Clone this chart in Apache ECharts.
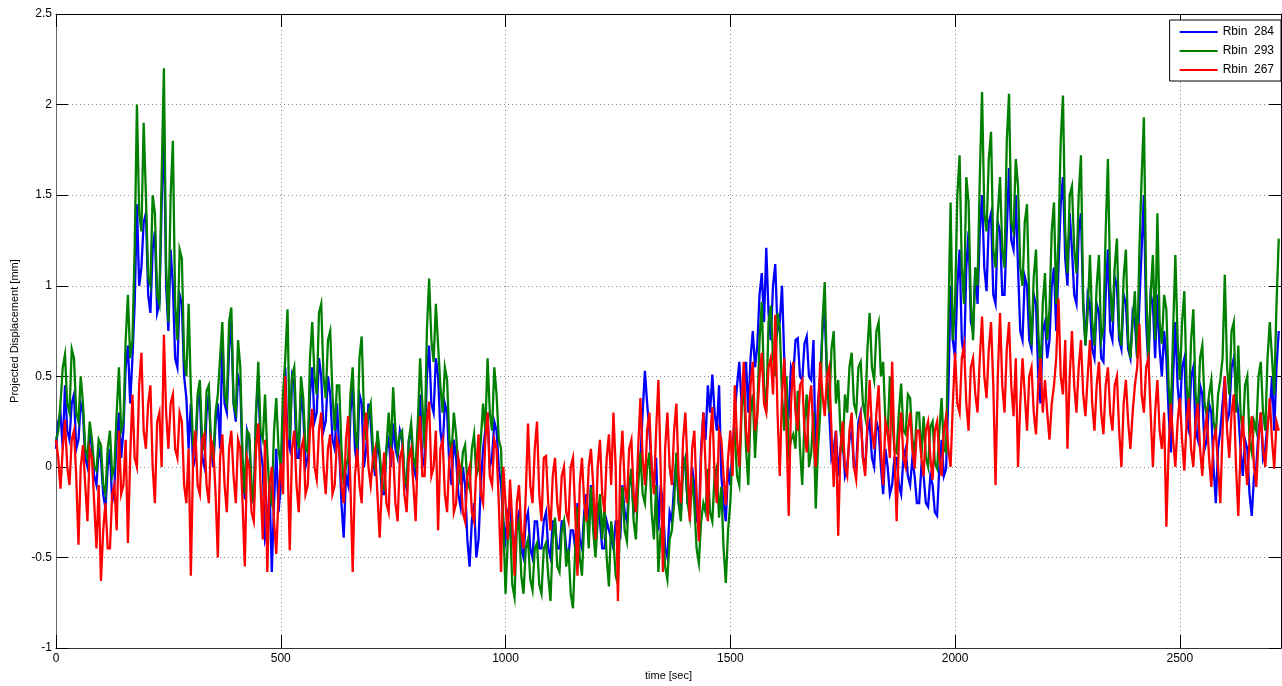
<!DOCTYPE html>
<html>
<head>
<meta charset="utf-8">
<title>Projected Displacement</title>
<script src="https://cdn.jsdelivr.net/npm/echarts@6/dist/echarts.min.js"></script>
<style>
  html, body { margin: 0; padding: 0; background: #fff; }
  #chart { width: 1282px; height: 686px; }
</style>
</head>
<body>
<div id="chart"></div>
<script>
// Sampling interval of the displacement records, in seconds.
// Main samples sit at 0, 10, 20 ... s; the "Half" arrays hold the samples at 5, 15, 25 ... s.
const SAMPLE_STEP = 10;

// Series names shown in the legend.
const seriesNames = ['Rbin  284', 'Rbin  293', 'Rbin  267'];
const seriesColors = ['#0000ff', '#008000', '#ff0000'];

// Axis tick values.
const xTicks = [0, 500, 1000, 1500, 2000, 2500];
const yTicks = [-1, -0.5, 0, 0.5, 1, 1.5, 2, 2.5];

// Projected displacement [mm], one row per 100 s.
const rbin284 = [
  0.1, 0.3, 0.45, 0.15, 0.4, 0.15, 0.3, 0.0, 0.1, -0.1,
  0.05, -0.23, 0.1, -0.1, 0.3, 0.2, 0.67, 0.6, 1.45, 1.1,
  1.4, 0.85, 1.3, 0.9, 1.9, 0.75, 1.0, 0.55, 0.9, 0.38,
  0.35, 0.05, 0.4, 0.0, 0.4, 0.0, 0.35, 0.7, 0.3, 0.8,
  0.25, 0.45, -0.18, 0.15, -0.2, 0.5, 0.0, -0.35, -0.58, 0.1,
  -0.1, 0.55, 0.1, 0.45, 0.05, 0.3, 0.05, 0.55, 0.3, 0.5,
  0.25, 0.4, 0.1, 0.1, -0.39, -0.1, 0.45, 0.0, 0.35, 0.1,
  0.25, -0.05, 0.05, -0.15, 0.15, 0.24, 0.05, 0.15, -0.12, 0.2,
  -0.05, 0.4, 0.05, 0.67, 0.3, 0.5, 0.1, 0.3, -0.1, 0.05,
  -0.22, -0.1, -0.55, -0.2, -0.4, 0.1, 0.3, 0.05, 0.2, -0.1,
  -0.4, -0.2, -0.45, -0.25, -0.5, -0.25, -0.5, -0.3, -0.45, -0.25,
  -0.5, -0.3, -0.45, -0.3, -0.5, -0.35, -0.2, -0.45, -0.15, -0.1,
  -0.4, -0.3, -0.45, -0.35, -0.45, -0.3, -0.1, -0.3, -0.05, -0.2,
  0.05, 0.53, 0.2, -0.1, -0.35, -0.2, -0.5, -0.3, 0.05, -0.25,
  0.0, -0.2, -0.1, -0.3, 0.3, 0.45, 0.51, 0.2, -0.05, -0.3,
  -0.1, 0.3, 0.58, 0.4, 0.3, 0.75, 0.67, 1.07, 1.21, 0.7,
  1.12, 0.8, 0.6, 0.3, 0.5, 0.71, 0.48, 0.72, 0.48, 0.0,
  0.5, 0.85, 0.3, 0.1, -0.05, 0.15, 0.0, 0.2, 0.0, 0.3,
  0.0, 0.25, 0.0, 0.2, -0.15, 0.0, -0.1, 0.05, -0.15, 0.1,
  -0.1, -0.05, -0.2, -0.05, -0.22, -0.1, -0.27, 0.15, -0.01, 1.0,
  0.6, 1.2, 0.6, 1.3, 0.75, 0.9, 1.5, 0.97, 1.4, 0.9,
  1.3, 0.95, 1.65, 1.2, 1.1, 0.7, 1.0, 0.65, 0.9, 0.35,
  0.8, 0.7, 1.1, 1.1, 1.6, 1.0, 1.2, 0.9, 1.4, 0.67,
  0.9, 0.6, 0.85, 0.58, 1.2, 0.7, 1.0, 0.65, 0.9, 0.6,
  0.8, 0.9, 1.5, 0.55, 0.9, 0.95, 0.5, 0.6, 0.08, 0.8,
  0.3, 0.6, 0.2, 0.55, 0.15, 0.4, 0.15, 0.3, -0.2, 0.2,
  0.5, 0.3, 0.6, 0.3, -0.05, 0.1, -0.27, 0.0, 0.3, 0.1,
  0.3, 0.2, 0.75
];
const rbin284Half = [
  0.25, 0.1, 0.2, 0.35, 0.1, 0.35, 0.05, 0.2, -0.05, 0.1,
  -0.15, 0.0, -0.2, 0.15, 0.05, 0.55, 0.35, 0.9, 1.0, 1.35,
  0.95, 1.2, 0.85, 1.45, 1.0, 1.2, 0.6, 0.95, 0.5, 0.1,
  0.0, 0.35, 0.05, 0.3, 0.1, 0.25, 0.1, 0.35, 0.65, 0.35,
  0.5, 0.0, 0.2, -0.15, 0.3, 0.1, -0.4, -0.1, -0.2, -0.25,
  0.3, 0.15, 0.5, 0.05, 0.4, 0.0, 0.4, 0.25, 0.6, 0.2,
  0.5, 0.15, 0.35, -0.2, -0.05, 0.3, 0.1, 0.4, 0.0, 0.35,
  0.05, 0.15, -0.15, 0.1, 0.0, 0.1, 0.2, -0.05, 0.15, 0.0,
  0.2, 0.0, 0.5, 0.35, 0.6, 0.2, 0.35, 0.0, 0.15, -0.15,
  0.0, -0.4, -0.3, -0.5, -0.1, 0.2, 0.0, 0.25, 0.0, -0.3,
  -0.25, -0.4, -0.3, -0.45, -0.3, -0.45, -0.3, -0.45, -0.3, -0.45,
  -0.3, -0.45, -0.3, -0.45, -0.35, -0.45, -0.4, -0.25, -0.35, -0.3,
  -0.2, -0.45, -0.3, -0.4, -0.3, -0.4, -0.25, -0.1, -0.25, 0.0,
  0.3, 0.35, 0.0, 0.05, -0.1, -0.45, -0.25, -0.1, -0.2, 0.05,
  -0.2, 0.0, -0.3, 0.1, 0.15, 0.3, 0.3, 0.45, -0.2, 0.0,
  0.1, 0.45, 0.35, 0.58, 0.6, 0.55, 0.95, 0.8, 0.85, 1.0,
  0.75, 1.0, 0.35, 0.55, 0.7, 0.5, 0.68, 0.5, 0.7, 0.35,
  0.75, 0.5, 0.05, 0.2, 0.1, -0.05, 0.15, 0.0, 0.25, 0.05,
  0.2, 0.05, 0.25, 0.0, 0.1, -0.15, 0.05, -0.1, 0.05, -0.05,
  0.05, -0.2, 0.0, -0.2, -0.05, -0.25, 0.0, -0.05, 0.4, 0.7,
  1.0, 0.7, 1.1, 0.8, 1.1, 1.3, 1.1, 1.35, 0.95, 1.35,
  0.95, 1.3, 1.25, 1.5, 0.75, 1.05, 0.7, 0.95, 0.5, 0.75,
  0.6, 1.0, 0.75, 1.45, 1.15, 1.4, 0.95, 1.3, 0.9, 0.95,
  0.65, 0.9, 0.6, 0.95, 0.75, 1.05, 0.7, 0.95, 0.65, 0.85,
  0.6, 1.2, 0.8, 0.95, 0.6, 0.65, 0.75, 0.3, 0.5, 0.45,
  0.55, 0.25, 0.5, 0.2, 0.45, 0.1, 0.35, 0.0, 0.1, 0.35,
  0.25, 0.55, 0.4, 0.1, 0.15, -0.15, -0.05, 0.2, 0.05, 0.25,
  0.5, 0.55
];

const rbin293 = [
  0.15, 0.35, 0.62, 0.3, 0.6, 0.25, 0.35, 0.05, 0.15, -0.02,
  0.12, -0.15, 0.2, 0.0, 0.55, 0.25, 0.95, 0.7, 2.0, 1.3,
  1.5, 1.0, 1.4, 0.9, 2.2, 0.8, 1.8, 0.7, 1.15, 0.5,
  0.42, 0.1, 0.48, 0.1, 0.45, 0.05, 0.4, 0.8, 0.35, 0.88,
  0.3, 0.55, -0.15, 0.18, -0.2, 0.58, 0.15, 0.08, -0.2, 0.38,
  0.0, 0.6, 0.15, 0.55, 0.1, 0.38, 0.08, 0.8, 0.4, 0.9,
  0.38, 0.75, 0.2, 0.45, -0.1, 0.05, 0.55, 0.1, 0.72, 0.15,
  0.35, -0.02, 0.08, -0.12, 0.3, 0.44, 0.08, 0.2, -0.1, 0.24,
  0.0, 0.6, 0.1, 1.04, 0.58, 0.67, 0.3, 0.48, 0.08, 0.18,
  -0.1, 0.12, -0.12, 0.18, 0.0, 0.35, 0.6, 0.2, 0.4, 0.1,
  -0.7, -0.3, -0.72, -0.3, -0.7, -0.4, -0.68, -0.42, -0.7, -0.42,
  -0.74, -0.28, -0.58, -0.3, -0.45, -0.78, -0.22, -0.6, -0.2, -0.11,
  -0.5, -0.15, -0.21, -0.66, -0.41, -0.65, -0.11, -0.41, -0.01, -0.4,
  0.08, -0.2, 0.08, -0.4, -0.58, -0.31, -0.62, -0.35, 0.08, -0.3,
  0.05, -0.28, -0.21, -0.53, -0.2, -0.01, -0.3, 0.0, -0.11, -0.64,
  -0.2, 0.18, -0.1, 0.48, -0.1, 0.4, 0.3, 0.91, 0.3, 0.89,
  0.5, 0.77, 0.2, 0.08, 0.18, 0.42, -0.1, 0.4, 0.08, -0.23,
  0.3, 1.02, 0.3, 0.75, 0.48, 0.08, 0.3, 0.63, 0.3, 0.58,
  0.28, 0.85, 0.48, 0.8, 0.58, 0.18, 0.28, 0.08, 0.46, 0.18,
  0.38, 0.08, 0.3, 0.28, 0.0, 0.25, -0.01, 0.38, 0.08, 1.46,
  0.9, 1.72, 0.9, 1.46, 0.7, 1.0, 2.07, 1.3, 1.85, 1.1,
  1.6, 1.1, 2.06, 1.3, 1.55, 1.0, 1.45, 0.67, 1.2, 0.5,
  1.07, 0.87, 1.46, 1.26, 2.05, 1.07, 1.55, 1.07, 1.72, 0.67,
  1.17, 0.67, 1.17, 0.77, 1.7, 0.8, 1.26, 0.67, 1.2, 0.6,
  0.97, 1.2, 1.93, 0.58, 1.17, 1.4, 0.68, 0.87, 0.28, 1.17,
  0.48, 0.97, 0.3, 0.87, 0.3, 0.67, 0.28, 0.48, 0.18, 0.48,
  1.06, 0.4, 0.8, 0.67, 0.18, 0.5, 0.08, 0.2, 0.58, 0.2,
  0.8, 0.4, 1.26
];
const rbin293Half = [
  0.2, 0.55, 0.35, 0.65, 0.3, 0.5, 0.1, 0.25, 0.0, 0.15,
  -0.1, 0.1, -0.05, 0.3, 0.2, 0.7, 0.6, 1.2, 1.4, 1.9,
  1.05, 1.5, 0.95, 1.6, 1.1, 1.5, 0.9, 1.2, 0.6, 0.9,
  0.12, 0.4, 0.15, 0.42, 0.1, 0.3, 0.6, 0.4, 0.8, 0.35,
  0.7, 0.05, 0.2, -0.1, 0.3, 0.2, 0.4, -0.15, 0.2, 0.1,
  0.4, 0.87, 0.5, 0.2, 0.5, 0.1, 0.6, 0.5, 0.85, 0.5,
  0.7, 0.4, 0.45, 0.1, 0.0, 0.4, 0.2, 0.6, 0.3, 0.3,
  0.1, 0.2, -0.1, 0.1, 0.1, 0.2, 0.18, -0.05, 0.15, 0.05,
  0.25, 0.35, 0.75, 0.7, 0.9, 0.45, 0.55, 0.15, 0.3, 0.0,
  0.08, -0.08, 0.1, -0.05, 0.15, 0.2, 0.3, 0.55, 0.15, -0.3,
  -0.4, -0.65, -0.35, -0.6, -0.45, -0.62, -0.45, -0.65, -0.45, -0.6,
  -0.4, -0.55, -0.35, -0.55, -0.7, -0.45, -0.5, -0.3, -0.45, -0.35,
  -0.3, -0.4, -0.5, -0.3, -0.6, -0.3, -0.35, -0.1, -0.3, -0.1,
  -0.15, 0.0, -0.25, -0.1, -0.35, -0.55, -0.4, -0.2, -0.2, 0.0,
  -0.2, -0.05, -0.45, -0.3, -0.25, -0.25, -0.05, -0.28, -0.45, -0.35,
  0.1, -0.05, 0.3, 0.1, 0.3, 0.05, 0.7, 0.45, 0.8, 0.6,
  0.85, 0.4, 0.5, 0.15, 0.1, 0.1, 0.25, 0.0, 0.3, 0.1,
  0.8, 0.5, 0.65, 0.35, 0.2, 0.4, 0.55, 0.35, 0.55, 0.35,
  0.65, 0.55, 0.75, 0.5, 0.25, 0.5, 0.1, 0.3, 0.2, 0.4,
  0.15, 0.3, 0.05, 0.05, 0.22, 0.02, 0.2, 0.1, 0.8, 0.7,
  1.5, 1.1, 1.6, 0.9, 1.1, 1.6, 1.4, 1.7, 1.2, 1.4,
  1.2, 1.8, 1.35, 1.7, 1.1, 1.35, 0.9, 1.05, 0.75, 0.9,
  0.7, 1.3, 0.9, 1.8, 1.3, 1.5, 1.2, 1.5, 0.9, 0.85,
  0.8, 1.0, 0.7, 1.3, 1.0, 1.1, 0.75, 1.05, 0.7, 0.8,
  0.6, 1.6, 1.0, 0.95, 0.7, 0.8, 0.95, 0.45, 0.75, 0.7,
  0.8, 0.45, 0.7, 0.4, 0.6, 0.35, 0.4, 0.25, 0.4, 0.6,
  0.55, 0.75, 0.3, 0.3, 0.45, 0.15, 0.25, 0.5, 0.3, 0.6,
  0.6, 0.9
];

const rbin267 = [
  0.15, -0.12, 0.26, -0.1, 0.2, -0.43, 0.12, -0.3, 0.05, -0.45,
  -0.63, -0.2, -0.45, -0.1, 0.2, -0.1, -0.42, 0.4, 0.0, 0.63,
  0.1, 0.45, -0.2, 0.3, 0.73, 0.1, 0.4, 0.05, 0.25, -0.2,
  -0.6, 0.2, -0.15, 0.18, -0.2, 0.1, -0.5, 0.18, -0.25, 0.2,
  -0.2, 0.1, -0.55, 0.0, -0.3, 0.24, -0.4, -0.58, 0.0, -0.48,
  0.02, 0.5, -0.46, 0.2, -0.25, 0.15, -0.1, 0.32, -0.07, 0.3,
  -0.15, 0.18, -0.1, 0.1, -0.2, 0.28, -0.58, 0.1, -0.2, 0.3,
  -0.1, 0.1, -0.39, 0.08, -0.25, 0.08, -0.3, 0.1, -0.25, 0.1,
  -0.3, 0.28, -0.05, 0.36, 0.0, -0.35, 0.15, -0.25, 0.1, -0.2,
  -0.02, -0.3, 0.0, -0.3, 0.18, -0.2, 0.3, -0.1, 0.1, -0.58,
  -0.2, -0.07, -0.6, -0.1, -0.45, 0.24, -0.2, 0.25, -0.3, 0.06,
  -0.35, 0.05, -0.3, 0.0, -0.3, 0.05, -0.6, 0.05, -0.3, 0.1,
  -0.4, 0.15, -0.25, 0.18, 0.3, -0.74, 0.2, -0.2, 0.15, -0.25,
  0.38, -0.1, 0.3, -0.15, 0.48, -0.58, 0.3, -0.1, 0.35, -0.2,
  0.3, -0.3, 0.2, -0.41, 0.3, -0.3, 0.33, -0.2, 0.15, -0.21,
  0.2, 0.45, 0.0, 0.58, 0.08, 0.58, 0.28, 0.63, 0.3, 0.6,
  0.84, -0.05, 0.6, -0.27, 0.58, 0.2, 0.48, 0.08, 0.45, 0.0,
  0.58, 0.28, 0.55, -0.11, -0.38, 0.25, -0.05, 0.3, -0.07, 0.28,
  -0.05, 0.48, 0.1, 0.45, -0.1, 0.2, 0.58, -0.3, 0.3, 0.0,
  0.3, -0.01, 0.2, -0.05, 0.25, -0.07, 0.25, -0.05, 0.28, 0.0,
  0.63, 0.3, 0.67, 0.2, 0.6, 0.3, 0.83, 0.38, 0.8, -0.1,
  0.85, 0.3, 0.8, 0.28, 0.0, 0.6, 0.2, 0.55, 0.18, 0.6,
  0.48, 0.15, 0.45, 0.93, 0.4, 0.1, 0.75, 0.3, 0.7, 0.28,
  0.7, 0.2, 0.58, 0.18, 0.55, 0.2, 0.5, 0.0, 0.48, 0.1,
  0.45, 0.79, 0.3, 0.6, 0.0, 0.48, 0.1, -0.33, 0.35, 0.0,
  0.38, -0.02, 0.38, 0.0, 0.35, -0.05, 0.28, -0.11, 0.2, -0.2,
  0.5, 0.05, 0.4, -0.27, 0.28, -0.1, 0.28, -0.11, 0.3, 0.0,
  0.38, -0.01, 0.2
];
const rbin267Half = [
  0.05, 0.1, 0.0, 0.15, -0.05, 0.0, -0.1, 0.1, -0.2, -0.1,
  -0.35, -0.45, -0.15, -0.35, -0.15, 0.15, 0.05, 0.05, 0.45, 0.2,
  0.35, 0.0, 0.25, 0.0, 0.3, 0.35, 0.1, 0.3, -0.1, 0.1,
  0.05, -0.1, 0.15, -0.1, 0.15, -0.15, 0.05, -0.1, 0.1, -0.05,
  0.15, -0.2, 0.05, -0.25, 0.1, -0.1, 0.15, -0.1, -0.3, -0.15,
  -0.15, 0.05, 0.1, -0.1, 0.1, -0.15, 0.2, 0.0, 0.2, 0.0,
  0.1, -0.15, 0.15, -0.1, 0.15, -0.1, -0.05, -0.1, 0.2, 0.0,
  0.05, -0.15, -0.1, -0.2, 0.1, -0.2, 0.05, -0.15, 0.05, -0.1,
  0.1, -0.05, 0.25, -0.05, 0.2, 0.1, -0.15, 0.05, -0.25, 0.05,
  -0.25, -0.05, -0.25, 0.0, -0.15, 0.15, -0.05, 0.15, -0.2, 0.0,
  -0.4, -0.3, -0.2, -0.35, -0.15, -0.1, 0.1, -0.15, 0.05, -0.2,
  -0.05, -0.2, -0.05, -0.25, 0.0, -0.25, -0.1, -0.2, 0.0, -0.1,
  0.0, -0.15, 0.05, -0.1, 0.0, 0.0, -0.1, 0.1, -0.15, 0.1,
  0.05, 0.2, 0.0, 0.2, 0.0, 0.1, 0.0, 0.2, -0.05, 0.15,
  0.0, 0.1, -0.15, 0.05, 0.0, 0.15, -0.05, 0.2, -0.05, 0.05,
  -0.05, 0.15, 0.35, 0.2, 0.45, 0.2, 0.5, 0.35, 0.55, 0.4,
  0.3, 0.4, 0.2, 0.35, 0.3, 0.45, 0.2, 0.35, 0.15, 0.3,
  0.4, 0.5, 0.2, 0.2, 0.1, 0.0, 0.2, 0.0, 0.2, 0.05,
  0.25, 0.2, 0.3, 0.1, 0.25, 0.05, 0.1, 0.15, 0.05, 0.2,
  0.1, 0.2, 0.05, 0.2, 0.05, 0.2, 0.05, 0.2, 0.1, 0.35,
  0.35, 0.6, 0.35, 0.55, 0.4, 0.6, 0.5, 0.65, 0.45, 0.5,
  0.45, 0.65, 0.45, 0.6, 0.35, 0.4, 0.5, 0.3, 0.45, 0.3,
  0.3, 0.35, 0.6, 0.5, 0.7, 0.5, 0.45, 0.55, 0.4, 0.5,
  0.35, 0.45, 0.3, 0.45, 0.3, 0.45, 0.2, 0.35, 0.25, 0.3,
  0.55, 0.4, 0.55, 0.3, 0.3, 0.2, 0.3, 0.1, 0.15, 0.25,
  0.15, 0.25, 0.1, 0.25, 0.1, 0.2, 0.05, 0.15, 0.0, 0.2,
  0.2, 0.3, 0.0, 0.1, 0.05, 0.15, 0.0, 0.15, 0.1, 0.2,
  0.15, 0.25
];

const seriesValues = [
  [rbin284, rbin284Half],
  [rbin293, rbin293Half],
  [rbin267, rbin267Half]
];

// Interleave the on-step and half-step samples into [time, value] pairs.
function toPoints(onStep, halfStep) {
  const pts = [];
  onStep.forEach((v, i) => {
    pts.push([i * SAMPLE_STEP, v]);
    if (i < halfStep.length) pts.push([i * SAMPLE_STEP + SAMPLE_STEP / 2, halfStep[i]]);
  });
  return pts;
}

const X_MIN = xTicks[0];
const X_MAX = 2725;
const Y_MIN = yTicks[0];
const Y_MAX = yTicks[yTicks.length - 1];

const FONT = '"Liberation Sans", Arial, sans-serif';
const tickStyle = { color: '#000', width: 1 };
const gridDots = { color: '#8a8a8a', width: 1, type: [1, 3] };

const chart = echarts.init(document.getElementById('chart'), null, { renderer: 'canvas' });

chart.setOption({
  animation: false,
  backgroundColor: '#fff',
  textStyle: { fontFamily: FONT },
  grid: { left: 56, right: 1, top: 14, bottom: 35, containLabel: false },
  legend: {
    orient: 'vertical',
    right: 1,
    top: 20,
    data: seriesNames,
    icon: 'rect',
    itemWidth: 38,
    itemHeight: 2,
    itemGap: 5,
    padding: [5, 7, 4, 10],
    backgroundColor: '#fff',
    borderColor: '#000',
    borderWidth: 1,
    borderRadius: 0,
    textStyle: { fontFamily: FONT, fontSize: 12, color: '#000', lineHeight: 14 }
  },
  xAxis: [
    {
      type: 'value',
      min: X_MIN,
      max: X_MAX,
      interval: 500,
      position: 'bottom',
      name: 'time [sec]',
      nameLocation: 'middle',
      nameGap: 21,
      nameTextStyle: { fontFamily: FONT, fontSize: 11, color: '#000' },
      axisLine: { show: true, onZero: false, lineStyle: { color: '#333', width: 1 } },
      axisTick: { show: true, inside: true, length: 13, lineStyle: tickStyle },
      axisLabel: {
        fontFamily: FONT, fontSize: 12, color: '#000', margin: 5,
        showMaxLabel: false,
        formatter: v => (xTicks.indexOf(v) >= 0 ? String(v) : '')
      },
      splitLine: { show: true, lineStyle: gridDots }
    },
    {
      type: 'value',
      min: X_MIN,
      max: X_MAX,
      interval: 500,
      position: 'top',
      axisLine: { show: true, onZero: false, lineStyle: { color: '#000', width: 1 } },
      axisTick: { show: true, inside: true, length: 13, lineStyle: tickStyle },
      axisLabel: { show: false },
      splitLine: { show: false }
    }
  ],
  yAxis: [
    {
      type: 'value',
      min: Y_MIN,
      max: Y_MAX,
      interval: 0.5,
      position: 'left',
      name: 'Projected Displacement [mm]',
      nameLocation: 'middle',
      nameGap: 36,
      nameRotate: 90,
      nameTextStyle: { fontFamily: FONT, fontSize: 11, color: '#000' },
      axisLine: { show: true, onZero: false, lineStyle: { color: '#666', width: 1 } },
      axisTick: { show: true, inside: true, length: 12, lineStyle: tickStyle },
      axisLabel: {
        fontFamily: FONT, fontSize: 12, color: '#000', margin: 4,
        formatter: v => String(v)
      },
      splitLine: { show: true, lineStyle: gridDots }
    },
    {
      type: 'value',
      min: Y_MIN,
      max: Y_MAX,
      interval: 0.5,
      position: 'right',
      axisLine: { show: true, onZero: false, lineStyle: { color: '#000', width: 1 } },
      axisTick: { show: true, inside: true, length: 12, lineStyle: tickStyle },
      axisLabel: { show: false },
      splitLine: { show: false }
    }
  ],
  series: seriesNames.map((name, k) => ({
    name: name,
    type: 'line',
    xAxisIndex: 0,
    yAxisIndex: 0,
    data: toPoints(seriesValues[k][0], seriesValues[k][1]),
    showSymbol: false,
    symbol: 'none',
    clip: true,
    lineStyle: { color: seriesColors[k], width: 2.3, join: 'miter' },
    itemStyle: { color: seriesColors[k] },
    emphasis: { disabled: true },
    z: 2 + k
  }))
});
</script>
</body>
</html>
